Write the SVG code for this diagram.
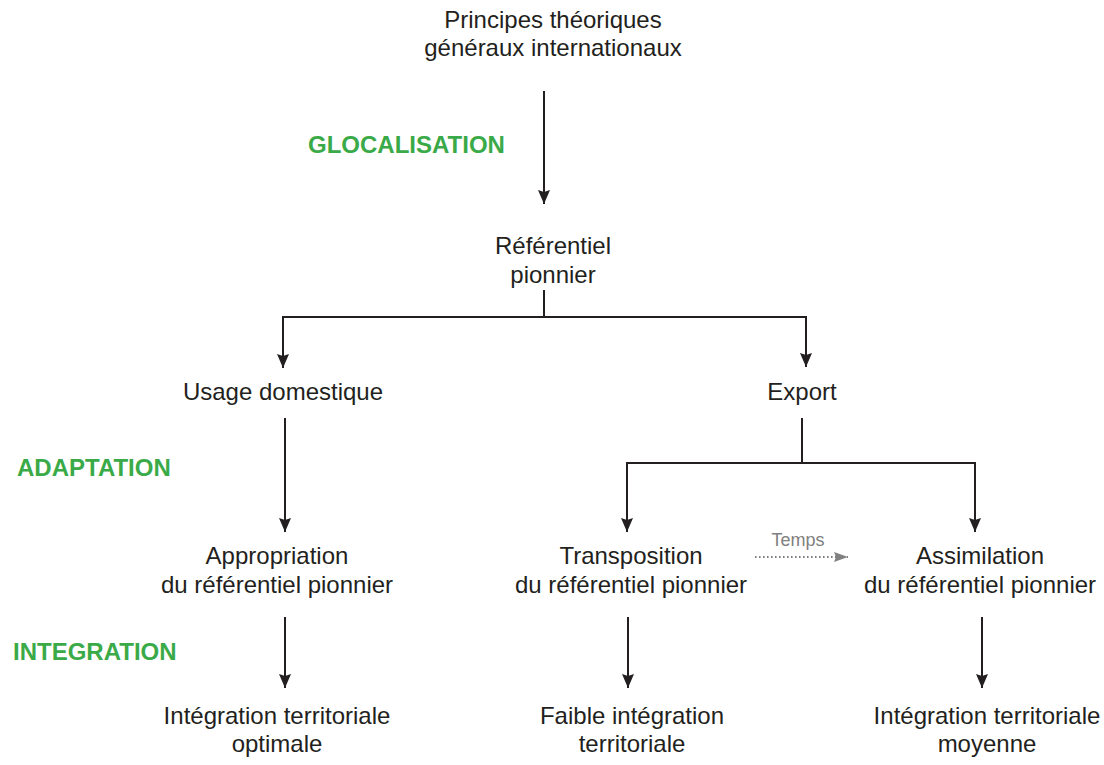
<svg xmlns="http://www.w3.org/2000/svg" width="1104" height="765" viewBox="0 0 1104 765">
<style>
.t{font-family:"Liberation Sans",Arial,Helvetica,sans-serif;font-size:24px;fill:#231f20;text-anchor:middle}
.g{font-family:"Liberation Sans",Arial,Helvetica,sans-serif;font-size:24px;font-weight:bold;fill:#3aaa48}
.tm{font-family:"Liberation Sans",Arial,Helvetica,sans-serif;font-size:18px;fill:#808080;text-anchor:middle}
.c{stroke:#231f20;stroke-width:2;fill:none}
</style>
<defs>
<marker id="ah" markerUnits="userSpaceOnUse" markerWidth="15" markerHeight="13" refX="14" refY="6" orient="auto">
<path d="M0,0 L14,6 L0,12 L2,6 z" fill="#231f20"/>
</marker>
<marker id="ahg" markerUnits="userSpaceOnUse" markerWidth="15" markerHeight="11" refX="14" refY="5" orient="auto">
<path d="M0,0 L14,5 L0,10 L2,5 z" fill="#808080"/>
</marker>
</defs>
<g id="labels">
<text class="g" x="308" y="153">GLOCALISATION</text>
<text class="g" x="17" y="476">ADAPTATION</text>
<text class="g" x="13" y="660">INTEGRATION</text>
</g>
<g id="n-principes"><text class="t" x="553" y="28">Principes théoriques</text><text class="t" x="553" y="56">généraux internationaux</text></g>
<g id="n-referentiel"><text class="t" x="553" y="254">Référentiel</text><text class="t" x="553" y="283">pionnier</text></g>
<g id="n-usage"><text class="t" x="283" y="400">Usage domestique</text></g>
<g id="n-export"><text class="t" x="802" y="400">Export</text></g>
<g id="n-appropriation"><text class="t" x="277" y="564">Appropriation</text><text class="t" x="277" y="593">du référentiel pionnier</text></g>
<g id="n-transposition"><text class="t" x="631" y="564">Transposition</text><text class="t" x="631" y="593">du référentiel pionnier</text></g>
<g id="n-assimilation"><text class="t" x="980" y="564">Assimilation</text><text class="t" x="980" y="593">du référentiel pionnier</text></g>
<g id="n-optimale"><text class="t" x="277" y="724">Intégration territoriale</text><text class="t" x="277" y="752">optimale</text></g>
<g id="n-faible"><text class="t" x="632" y="724">Faible intégration</text><text class="t" x="632" y="752">territoriale</text></g>
<g id="n-moyenne"><text class="t" x="987" y="724">Intégration territoriale</text><text class="t" x="987" y="752">moyenne</text></g>
<g id="connectors">
<line class="c" x1="544" y1="91" x2="544" y2="204" marker-end="url(#ah)"/>
<line class="c" x1="544" y1="290" x2="544" y2="317"/>
<polyline class="c" points="283,367 283,317 806,317 806,367"/>
<line class="c" x1="283" y1="330" x2="283" y2="368" marker-end="url(#ah)"/>
<line class="c" x1="806" y1="330" x2="806" y2="367" marker-end="url(#ah)"/>
<line class="c" x1="285" y1="418" x2="285" y2="532" marker-end="url(#ah)"/>
<line class="c" x1="802" y1="418" x2="802" y2="463"/>
<polyline class="c" points="627,520 627,463 975,463 975,520"/>
<line class="c" x1="627" y1="500" x2="627" y2="532" marker-end="url(#ah)"/>
<line class="c" x1="975" y1="500" x2="975" y2="532" marker-end="url(#ah)"/>
<line class="c" x1="285" y1="617" x2="285" y2="688" marker-end="url(#ah)"/>
<line class="c" x1="628" y1="617" x2="628" y2="688" marker-end="url(#ah)"/>
<line class="c" x1="982" y1="617" x2="982" y2="688" marker-end="url(#ah)"/>
<line x1="755" y1="557" x2="848" y2="557" stroke="#808080" stroke-width="1.8" stroke-dasharray="1.6 2.4" marker-end="url(#ahg)"/>
<text class="tm" x="798" y="546">Temps</text>
</g>
</svg>
